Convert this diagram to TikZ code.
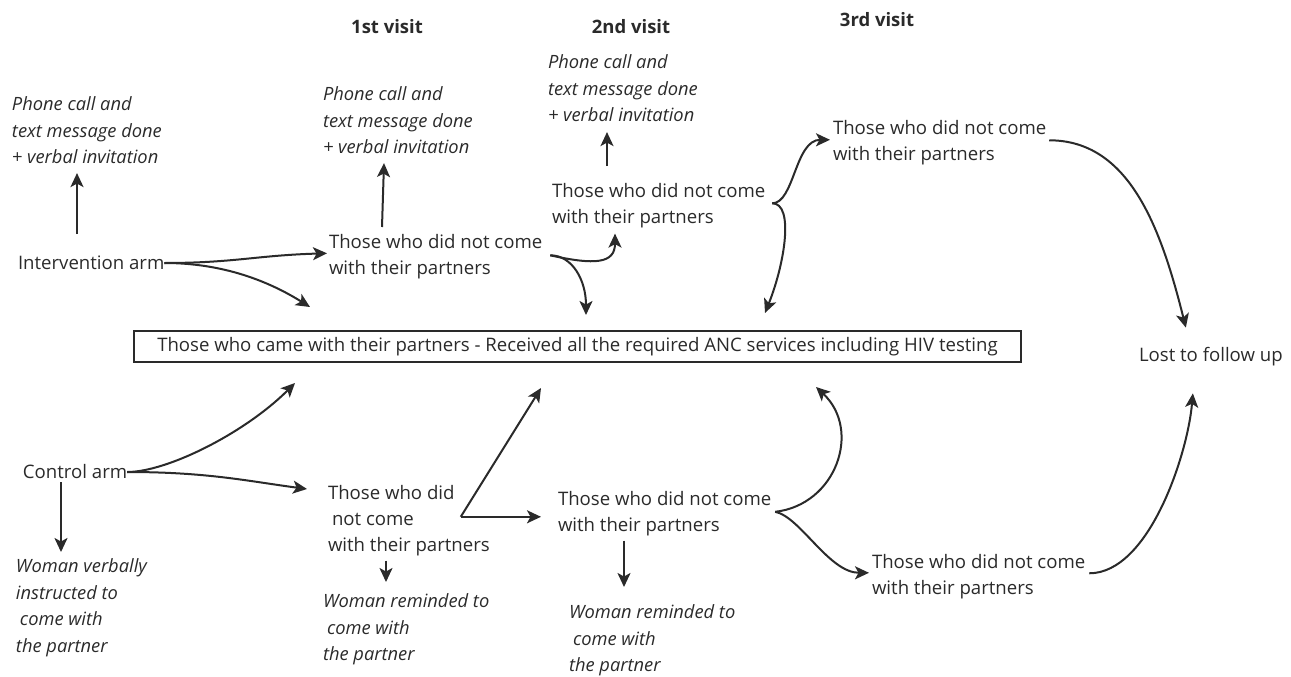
\documentclass[tikz,border=0pt]{standalone}
\usepackage{fontspec}
\setmainfont{Open Sans}
\usepackage{tikz}
\usetikzlibrary{arrows.meta, positioning, calc}
\definecolor{inkgray}{HTML}{2A2A2A}

\begin{document}
\begin{tikzpicture}[x=1pt, y=-1pt,
    every node/.style={inner sep=0pt, outer sep=0pt, text=inkgray},
    txt/.style={anchor=north west, align=left, font=\fontsize{18.6}{26}\selectfont},
    note/.style={anchor=north west, align=left, font=\fontsize{18.3}{26.5}\selectfont\itshape},
    visit/.style={font=\fontsize{18.5}{20}\selectfont\bfseries},
    flow/.style={draw=inkgray, line width=2pt, -{Stealth[length=14pt, width=13pt, inset=3.5pt]}}]

  \useasboundingbox (0,0) rectangle (1291,677);

  % visits
  \node[visit] (v1) at (387,27) {1st visit};
  \node[visit] (v2) at (631,27) {2nd visit};
  \node[visit] (v3) at (877,20) {3rd visit};

  % intervention arm
  \node[txt, anchor=west] (inter) at (18,263) {Intervention arm};
  \node[note] (inote0) at (12,97) {Phone call and\\text message done\\+ verbal invitation};
  \node[txt] (itv1) at (329,234) {Those who did not come\\with their partners};
  \node[note] (inote1) at (323,87) {Phone call and\\text message done\\+ verbal invitation};
  \node[txt] (itv2) at (552,183) {Those who did not come\\with their partners};
  \node[note] (inote2) at (548,55) {Phone call and\\text message done\\+ verbal invitation};
  \node[txt] (itv3) at (833,120) {Those who did not come\\with their partners};

  % outcomes
  \node[draw=inkgray, line width=2pt, minimum width=887pt, minimum height=31pt,
        font=\fontsize{18.6}{20}\selectfont] (done) at (577.5,346.5)
    {Those who came with their partners - Received all the required ANC services including HIV testing};
  \node[txt, anchor=west] (lost) at (1139,357) {Lost to follow up};

  % control arm
  \node[txt, anchor=west] (ctrl) at (23,472) {Control arm};
  \node[note] (cnote0) at (16,559) {Woman verbally\\instructed to\\\hspace{4pt}come with\\the partner};
  \node[txt] (ctv1) at (328,485) {Those who did\\\hspace{4pt}not come\\with their partners};
  \node[note] (cnote1) at (323,594) {Woman reminded to\\\hspace{4pt}come with\\the partner};
  \node[txt] (ctv2) at (558,491) {Those who did not come\\with their partners};
  \node[note] (cnote2) at (569,605) {Woman reminded to\\\hspace{4pt}come with\\the partner};
  \node[txt] (ctv3) at (872,554) {Those who did not come\\with their partners};

  % loose ends near the box
  \coordinate (ia) at (310,307);
  \coordinate (ib) at (586,315);
  \coordinate (ic) at (765,313);
  \coordinate (ca) at (295,383);
  \coordinate (cb) at (541,388);
  \coordinate (cc) at (816,387);
  \coordinate (fork) at ($(ctv1.east)+(-29,-3.5)$);
  \coordinate (ibr) at ($(itv2.east)+(7,-2)$);
  \coordinate (cbr) at ($(ctv2.east)+(4,-1.5)$);

  % intervention arrows
  \draw[flow] ($(inter.north west)+(59,-22)$) -- ($(inote0.south west)+(65,9)$);
  \draw[flow] (inter.east) .. controls +(70,0) and +(-70,2) .. ($(itv1.west)+(-2,-3)$);
  \draw[flow] (inter.east) .. controls +(60,0) and +(-40,-25) .. (ia);
  \draw[flow] ($(itv1.north west)+(53,-7)$) -- ($(inote1.south west)+(61,9)$);
  \draw[flow] ($(itv1.east)+(8,-1)$) .. controls +(45,10) and +(0,30) .. ($(itv2.south west)+(63,6)$);
  \draw[flow] ($(itv1.east)+(8,-1)$) .. controls +(22,0) and +(0,-35) .. (ib);
  \draw[flow] ($(itv2.north west)+(55,-17)$) -- ($(inote2.south west)+(59,10)$);
  \draw[flow] (ibr) .. controls +(22,0) and +(-35,0) .. ($(itv3.west)+(-3,-2.5)$);
  \draw[flow] (ibr) .. controls +(22,0) and +(20,-50) .. (ic);
  \draw[flow] ($(itv3.east)+(3,-2)$) .. controls +(80,0) and +(-25,-100) .. ($(lost.north)+(-25,-20)$);

  % control arrows
  \draw[flow] ($(ctrl.west)+(38,10)$) -- ($(cnote0.north west)+(45,-7)$);
  \draw[flow] (ctrl.east) .. controls +(40,0) and +(-50,50) .. (ca);
  \draw[flow] (ctrl.east) .. controls +(80,0) and +(-60,-8) .. ($(ctv1.north west)+(-21,4)$);
  \draw[flow] (fork) -- (cb);
  \draw[flow] (fork) -- ($(ctv2.west)+(-17,3.5)$);
  \draw[flow] ($(ctv1.south west)+(58,5)$) -- ($(cnote1.north west)+(63,-12)$);
  \draw[flow] ($(ctv2.south west)+(66,5)$) -- ($(cnote2.north west)+(55,-18)$);
  \draw[flow] (cbr) .. controls +(61,-7) and +(46,43) .. (cc);
  \draw[flow] (cbr) .. controls +(25,5) and +(-40,0) .. ($(ctv3.west)+(-3,-3.5)$);
  \draw[flow] ($(ctv3.east)+(4,-3)$) .. controls +(60,0) and +(-5,60) .. ($(lost.south)+(-18,27)$);
\end{tikzpicture}
\end{document}
